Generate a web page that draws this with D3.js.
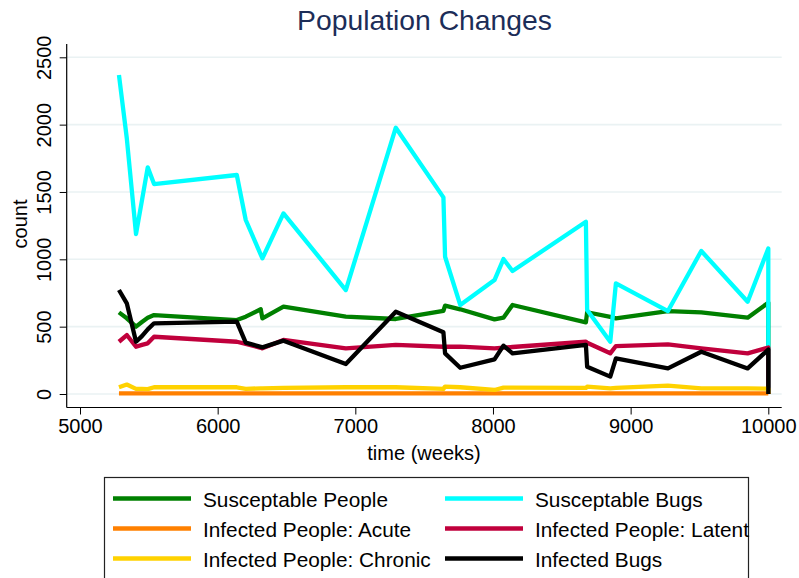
<!DOCTYPE html>
<html>
<head>
<meta charset="utf-8">
<script src="https://cdn.jsdelivr.net/npm/d3@7"></script>
<style>
  html, body { margin: 0; padding: 0; background: #fff; }
  svg { display: block; font-family: "Liberation Sans", Arial, Helvetica, sans-serif; }
</style>
</head>
<body>
<svg id="chart" width="799" height="578"></svg>
<script>
// Simulation output: time in weeks and population counts per compartment
const weeks = [5283, 5340, 5407, 5450, 5492, 5538, 6139, 6204, 6313, 6325, 6478, 6931, 7294, 7640,
               7652, 7762, 8011, 8076, 8142, 8675, 8684, 8852, 8893, 9271, 9513, 9850, 10000, 10000];

const susceptablePeople = [606, 562, 500, 535, 566, 586, 549, 574, 629, 562, 648, 574, 557, 618,
                           656, 629, 554, 567, 661, 532, 607, 572, 562, 616, 606, 567, 678, 0];
const susceptableBugs   = [2368, 1898, 1188, 1438, 1683, 1559, 1626, 1292, 1035, 1007, 1341, 772, 1977, 1460,
                           1019, 661, 846, 1002, 913, 1279, 624, 388, 822, 616, 1062, 685, 1081, 0];
const infectedAcute     = [5, 5, 4, 4, 4, 5, 5, 4, 4, 4, 5, 5, 5, 4,
                           5, 5, 4, 4, 5, 5, 5, 4, 4, 5, 4, 4, 4, 0];
const infectedLatent    = [388, 438, 351, 365, 376, 425, 388, 372, 343, 339, 401, 339, 364, 351,
                           351, 351, 339, 344, 349, 388, 380, 302, 356, 369, 339, 302, 345, 0];
const infectedChronic   = [50, 70, 38, 38, 36, 50, 50, 38, 42, 42, 45, 50, 50, 38,
                           55, 50, 30, 47, 47, 45, 55, 42, 45, 62, 42, 42, 40, 0];
const infectedBugs      = [772, 673, 388, 430, 480, 525, 537, 381, 350, 346, 396, 223, 611, 458,
                           302, 195, 257, 359, 302, 364, 203, 129, 265, 190, 314, 190, 330, 0];

const xTicks = [5000, 6000, 7000, 8000, 9000, 10000];
const yTicks = [0, 500, 1000, 1500, 2000, 2500];

const seriesNames  = ["Susceptable People", "Susceptable Bugs", "Infected People: Acute",
                      "Infected People: Latent", "Infected People: Chronic", "Infected Bugs"];
const seriesValues = [susceptablePeople, susceptableBugs, infectedAcute,
                      infectedLatent, infectedChronic, infectedBugs];
const seriesColors = ["#008000", "#00ffff", "#ff8000", "#c0003c", "#ffd200", "#000000"];

// Layout
const plot = { left: 66.7, right: 781.7, top: 44, bottom: 407.5 };

const svg = d3.select("#chart");

const x = d3.scaleLinear().domain([5000, 10000]).range([80, 768.3]);
const y = d3.scaleLinear().domain([0, 2500]).range([394, 57.3]);

// Title
svg.append("text")
  .attr("x", 424.5).attr("y", 29.5)
  .attr("text-anchor", "middle")
  .attr("font-size", 28.3)
  .attr("fill", "#1c2d58")
  .text("Population Changes");

// Horizontal grid lines
svg.append("g").selectAll("line")
  .data(yTicks)
  .join("line")
  .attr("x1", plot.left).attr("x2", plot.right)
  .attr("y1", d => y(d)).attr("y2", d => y(d))
  .attr("stroke", "#eaf2f3")
  .attr("stroke-width", 1.6);

// Series lines
const line = d3.line()
  .x((d, i) => x(weeks[i]))
  .y(d => y(d));

svg.append("g").selectAll("path")
  .data(seriesValues)
  .join("path")
  .attr("d", d => line(d))
  .attr("fill", "none")
  .attr("stroke", (d, i) => seriesColors[i])
  .attr("stroke-width", 4.3)
  .attr("stroke-linejoin", "round")
  .attr("stroke-linecap", "butt");

// Axes
const yAxis = svg.append("g")
  .attr("transform", `translate(${plot.left},0)`)
  .call(d3.axisLeft(y).tickValues(yTicks).tickSize(7).tickPadding(0).tickFormat(d3.format("d")));
yAxis.select(".domain").remove();
yAxis.selectAll(".tick line").attr("stroke", "#000").attr("stroke-width", 1);
yAxis.selectAll(".tick text")
  .attr("font-size", 20)
  .attr("font-family", "Liberation Sans, Arial, sans-serif")
  .attr("fill", "#000")
  .attr("text-anchor", "middle")
  .attr("x", 0).attr("dy", 0)
  .attr("transform", "translate(-16,0) rotate(-90)");

const xAxis = svg.append("g")
  .attr("transform", `translate(0,${plot.bottom})`)
  .call(d3.axisBottom(x).tickValues(xTicks).tickSize(7).tickPadding(4).tickFormat(d3.format("d")));
xAxis.select(".domain").remove();
xAxis.selectAll(".tick line").attr("stroke", "#000").attr("stroke-width", 1);
xAxis.selectAll(".tick text")
  .attr("font-size", 20)
  .attr("font-family", "Liberation Sans, Arial, sans-serif")
  .attr("fill", "#000");

svg.append("line")
  .attr("x1", plot.left).attr("x2", plot.left)
  .attr("y1", plot.top).attr("y2", plot.bottom)
  .attr("stroke", "#000").attr("stroke-width", 1.2);
svg.append("line")
  .attr("x1", plot.left).attr("x2", plot.right)
  .attr("y1", plot.bottom).attr("y2", plot.bottom)
  .attr("stroke", "#000").attr("stroke-width", 1.2);

// Axis titles
svg.append("text")
  .attr("x", 424).attr("y", 460)
  .attr("text-anchor", "middle")
  .attr("font-size", 20)
  .text("time (weeks)");
svg.append("text")
  .attr("transform", "translate(27,224) rotate(-90)")
  .attr("text-anchor", "middle")
  .attr("font-size", 20)
  .text("count");

// Legend: two columns, filled row by row
const legend = svg.append("g");
legend.append("rect")
  .attr("x", 104.5).attr("y", 477.5)
  .attr("width", 644).attr("height", 140)
  .attr("fill", "#fff")
  .attr("stroke", "#222").attr("stroke-width", 1.2);

const colX = [113, 445];
const rowY = [498.5, 528.5, 558.5];
const items = legend.selectAll("g.item")
  .data(seriesNames)
  .join("g")
  .attr("class", "item")
  .attr("transform", (d, i) => `translate(${colX[i % 2]},${rowY[Math.floor(i / 2)]})`);
items.append("line")
  .attr("x1", 0).attr("x2", 78)
  .attr("y1", 0).attr("y2", 0)
  .attr("stroke", (d, i) => seriesColors[i])
  .attr("stroke-width", 4.3);
items.append("text")
  .attr("x", 90).attr("y", 8)
  .attr("font-size", 20.8)
  .attr("fill", "#000")
  .text(d => d);
</script>
</body>
</html>
